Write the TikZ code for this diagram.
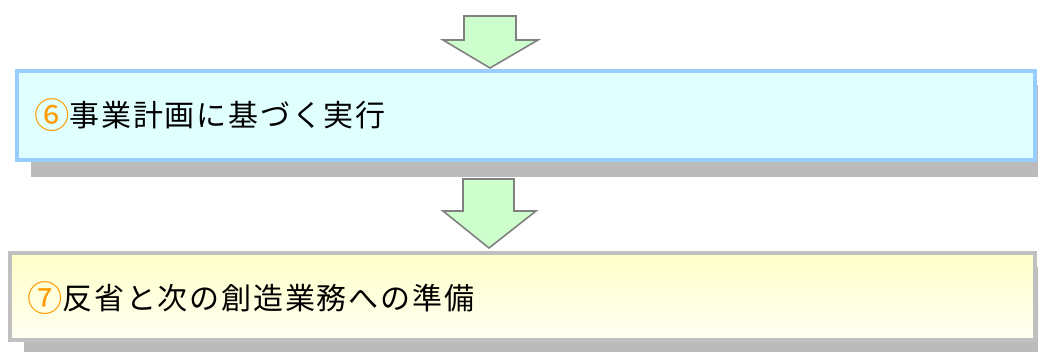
\documentclass[tikz,border=0pt]{standalone}
\usepackage{fontspec}
\usepackage{graphicx}
\newfontfamily\jp{Noto Sans CJK JP}
\usetikzlibrary{calc}
\definecolor{bordblue}{HTML}{99CCFF}
\definecolor{fillcyan}{HTML}{E0FFFF}
\definecolor{bordgrey}{HTML}{C0C0C0}
\definecolor{shadowgrey}{HTML}{BBBBBB}
\definecolor{arrowfill}{HTML}{CCFFCC}
\definecolor{arrowline}{HTML}{808080}
\definecolor{numorange}{HTML}{FF9900}
\definecolor{yeltop}{HTML}{FFFFC8}
\definecolor{yelbot}{HTML}{FFFFF2}
\newcommand{\circnum}[1]{\raisebox{-0.06em}{\scalebox{1.18}{\textcolor{numorange}{#1}}}}
\begin{document}
\begin{tikzpicture}[x=1pt,y=-1pt,
  shadowbox/.style={fill=shadowgrey,draw=none},
  downarrow/.style={fill=arrowfill,draw=arrowline,line width=1.6pt,line join=miter},
  steptext/.style={anchor=west,inner sep=0pt,font=\jp\fontsize{30}{30}\selectfont\addfontfeature{LetterSpace=6}}]
\useasboundingbox (0,0) rectangle (1038,351);
% shadows
\fill[shadowgrey] (31,85) rectangle (1053,177);
\fill[shadowgrey] (24,267) rectangle (1053,358);
% box 1
\draw[bordblue,line width=4pt,fill=fillcyan] (17,71) rectangle (1035,160);
\coordinate (b1w) at (34,115);
\node[steptext] (t1) at (b1w) {\circnum{⑥}事業計画に基づく実行};
% box 2
\shade[top color=yeltop,bottom color=yelbot] (10,253) rectangle (1035,340);
\draw[bordgrey,line width=4pt] (10,253) rectangle (1035,340);
\coordinate (b2w) at (27,298);
\node[steptext] (t2) at (b2w) {\circnum{⑦}反省と次の創造業務への準備};
% arrows
\draw[downarrow] (464,16) -- (516,16) -- (516,40) -- (538,40) -- (490,68) -- (443,40) -- (464,40) -- cycle;
\draw[downarrow] (463,179) -- (514,179) -- (514,211) -- (536,211) -- (489,248) -- (443,211) -- (463,211) -- cycle;
\end{tikzpicture}
\end{document}
